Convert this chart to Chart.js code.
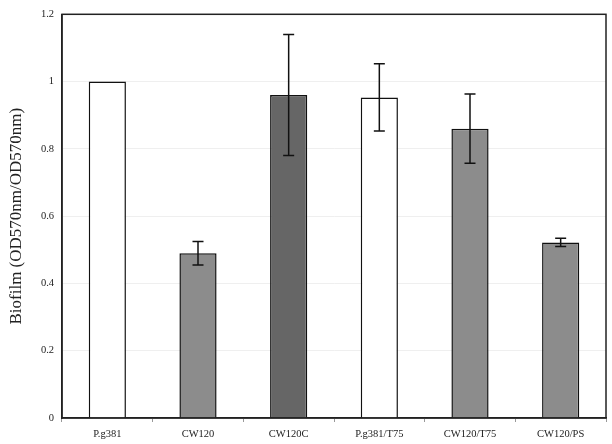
<!DOCTYPE html>
<html>
<head>
<meta charset="utf-8">
<script src="https://cdn.jsdelivr.net/npm/chart.js@4/dist/chart.umd.min.js"></script>
<style>
html,body{margin:0;padding:0;background:#fff;}
#wrap{width:612px;height:444px;}
</style>
</head>
<body>
<div id="wrap"><canvas id="c" width="612" height="444"></canvas></div>
<script>
const categories = ['P.g381', 'CW120', 'CW120C', 'P.g381/T75', 'CW120/T75', 'CW120/PS'];
const values = [1.0, 0.49, 0.96, 0.953, 0.86, 0.522];
const errors = [0, 0.035, 0.18, 0.10, 0.103, 0.012];
const barColors = ['#ffffff', '#8c8c8c', '#666666', '#ffffff', '#8c8c8c', '#8c8c8c'];
const yTicks = [0, 0.2, 0.4, 0.6, 0.8, 1, 1.2];

const errorBars = {
  id: 'errorBars',
  afterDatasetsDraw(chart) {
    const ctx = chart.ctx;
    const meta = chart.getDatasetMeta(0);
    const ys = chart.scales.y;
    ctx.save();
    ctx.strokeStyle = '#111';
    ctx.lineWidth = 1.5;
    meta.data.forEach((bar, i) => {
      const e = errors[i];
      if (!e) return;
      const x = bar.x;
      const yt = ys.getPixelForValue(values[i] + e);
      const yb = ys.getPixelForValue(values[i] - e);
      const cap = 5.5;
      ctx.beginPath();
      ctx.moveTo(x, yt); ctx.lineTo(x, yb);
      ctx.moveTo(x - cap, yt); ctx.lineTo(x + cap, yt);
      ctx.moveTo(x - cap, yb); ctx.lineTo(x + cap, yb);
      ctx.stroke();
    });
    ctx.restore();
  }
};

const frame = {
  id: 'frame',
  afterDraw(chart) {
    const a = chart.chartArea;
    const ctx = chart.ctx;
    ctx.save();
    ctx.strokeStyle = '#222';
    ctx.lineWidth = 1.5;
    ctx.strokeRect(a.left, a.top, a.right - a.left, a.bottom - a.top);
    ctx.restore();
  }
};

new Chart(document.getElementById('c'), {
  type: 'bar',
  data: {
    labels: categories,
    datasets: [{
      data: values,
      backgroundColor: barColors,
      borderColor: '#111',
      borderWidth: 1.5,
      barPercentage: 0.41,
      categoryPercentage: 1.0
    }]
  },
  options: {
    responsive: false,
    animation: false,
    events: [],
    layout: { padding: { left: 0, right: 6, top: 12, bottom: 0 } },
    plugins: { legend: { display: false }, tooltip: { enabled: false } },
    scales: {
      x: {
        grid: { display: true, offset: true, drawOnChartArea: false, drawTicks: true, tickLength: 4, color: '#999' },
        border: { display: true, color: '#222', width: 1.5 },
        ticks: { color: '#222', font: { family: 'Liberation Serif', size: 10.5 }, padding: 6, maxRotation: 0 },
        afterFit(s) { s.height = 26; }
      },
      y: {
        min: 0, max: 1.2,
        afterBuildTicks(s) { s.ticks = yTicks.map(v => ({ value: v })); },
        grid: { color: '#efefef', drawTicks: false, lineWidth: 1 },
        border: { display: true, color: '#222', width: 1.5 },
        ticks: {
          color: '#222', font: { family: 'Liberation Serif', size: 10.5 }, padding: 8,
          callback: v => String(v)
        },
        title: { display: true, text: 'Biofilm (OD570nm/OD570nm)', color: '#222', font: { family: 'Liberation Serif', size: 17 }, padding: { top: 6, bottom: 4 } },
        afterFit(s) { s.width = 62; }
      }
    }
  },
  plugins: [errorBars, frame]
});
</script>
</body>
</html>
